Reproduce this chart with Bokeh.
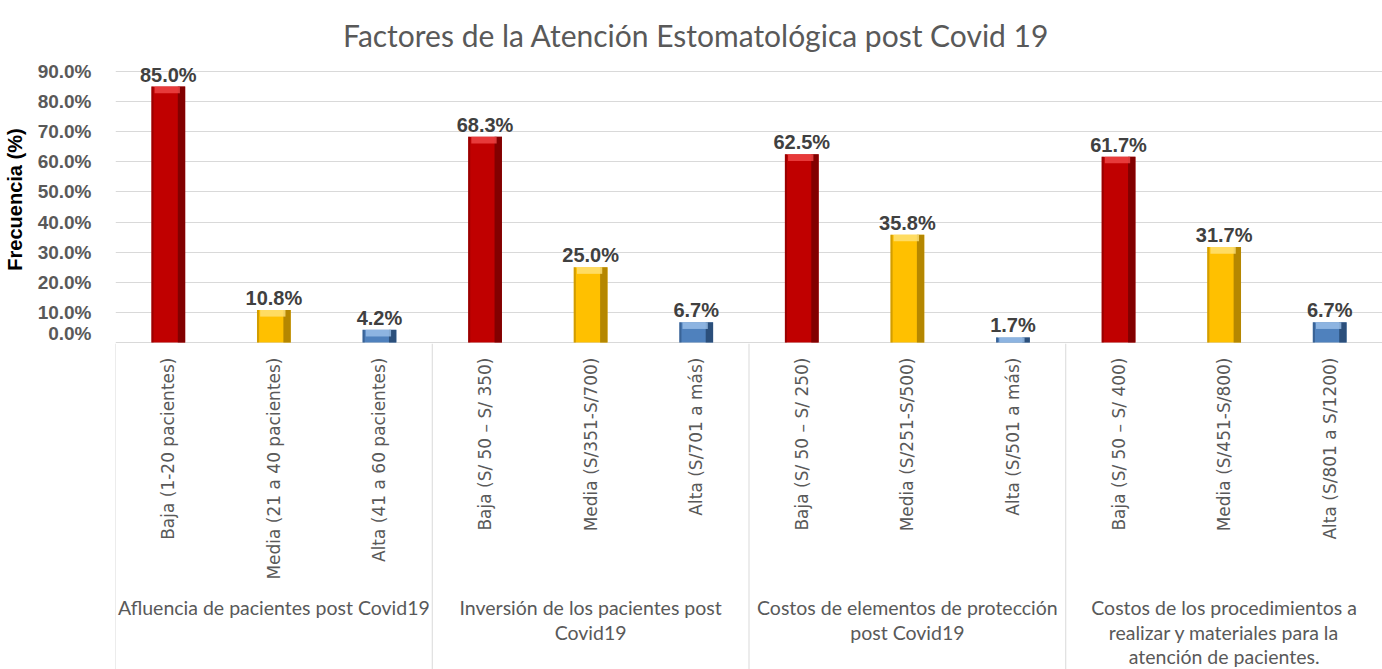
import math
from bokeh.plotting import figure
from bokeh.layouts import column
from bokeh.models import (FactorRange, Range1d, FixedTicker, NumeralTickFormatter,
                          ColumnDataSource)
from bokeh.transform import dodge
from bokeh.core.properties import value
from bokeh.embed import file_html
from bokeh.resources import INLINE

# ---------------- data ----------------
title_text = "Factores de la Atención Estomatológica post Covid 19"
y_label = "Frecuencia (%)"

groups = [
    "Afluencia de pacientes post Covid19",
    "Inversión de los pacientes post\nCovid19",
    "Costos de elementos de protección\npost Covid19",
    "Costos de los procedimientos a\nrealizar y materiales para la\natención de pacientes.",
]
categories = [
    ["Baja (1-20 pacientes)", "Media (21 a 40 pacientes)", "Alta (41 a 60 pacientes)"],
    ["Baja (S/ 50 – S/ 350)", "Media (S/351-S/700)", "Alta (S/701 a más)"],
    ["Baja (S/ 50 – S/ 250)", "Media (S/251-S/500)", "Alta (S/501 a más)"],
    ["Baja (S/ 50 – S/ 400)", "Media (S/451-S/800)", "Alta (S/801 a S/1200)"],
]
values = [
    [85.0, 10.8, 4.2],
    [68.3, 25.0, 6.7],
    [62.5, 35.8, 1.7],
    [61.7, 31.7, 6.7],
]
level_colors = ["#C00000", "#FFC000", "#4F81BD"]
level_dark = ["#6E0000", "#9C7400", "#1F3F66"]
level_light = ["#F04848", "#FFE27A", "#9CC0EA"]
y_ticks = [0.0, 0.1, 0.2, 0.3, 0.4, 0.5, 0.6, 0.7, 0.8, 0.9]

# ---------------- derived ----------------
flat_cats, flat_vals, col, dark, light, labels, hi_bottom = [], [], [], [], [], [], []
for g, cats in enumerate(categories):
    for i, c in enumerate(cats):
        v = values[g][i] / 100.0
        flat_cats.append(c)
        flat_vals.append(v)
        col.append(level_colors[i])
        dark.append(level_dark[i])
        light.append(level_light[i])
        labels.append(f"{values[g][i]:.1f}%")
        hi_bottom.append(max(v - 0.022, 0.0))

src = ColumnDataSource(dict(cat=flat_cats, val=flat_vals, color=col, dark=dark,
                            light=light, label=labels, hib=hi_bottom))

W = 1382
LEFT = 114
GRID = "#d9d9d9"
GRAY = "#595959"

# vertical layout (pixels from page top)
TITLE_H = 55
AXIS_Y = 343          # pixel row of 0 %
TOP90_Y = 72          # pixel row of 90 %
BOTTOM_H = 669 - AXIS_Y
TOP_H = AXIS_Y - TITLE_H
ppu = (AXIS_Y - TOP90_Y) / 0.9
y_start = -1.0 / ppu
y_end = y_start + TOP_H / ppu

x_range = FactorRange(factors=flat_cats, range_padding=0, factor_padding=0)

def bare(fig):
    fig.outline_line_color = None
    fig.xgrid.visible = False
    fig.ygrid.visible = False

# ---------------- title figure ----------------
t = figure(width=W, height=TITLE_H, x_range=x_range, y_range=Range1d(TITLE_H, 0),
           output_backend="svg", toolbar_location=None,
           min_border_left=LEFT, min_border_right=0, min_border_top=0,
           min_border_bottom=0, x_axis_location=None, y_axis_location=None)
bare(t)
tsrc = ColumnDataSource(dict(x=[flat_cats[len(flat_cats) // 2 - 1]], y=[34], t=[title_text]))
t.text(x="x", y="y", text="t", source=tsrc, text_align="center",
       text_baseline="alphabetic", text_font=value("Lato"),
       text_font_size="30px", text_color=GRAY)

# ---------------- top figure (bars) ----------------
p = figure(width=W, height=TOP_H, x_range=x_range, y_range=Range1d(y_start, y_end),
           output_backend="svg", toolbar_location=None,
           min_border_left=LEFT, min_border_right=0, min_border_bottom=0,
           min_border_top=0, x_axis_location=None)
p.outline_line_color = None
p.xgrid.visible = False
p.ygrid.grid_line_color = GRID
p.ygrid.grid_line_width = 1
p.yaxis.ticker = FixedTicker(ticks=y_ticks)
p.yaxis.formatter = NumeralTickFormatter(format="0.0%")
p.yaxis.axis_line_color = None
p.yaxis.major_tick_line_color = None
p.yaxis.minor_tick_line_color = None
p.yaxis.major_label_standoff = 18
p.yaxis.major_label_text_font = "Liberation Sans"
p.yaxis.major_label_text_font_style = "bold"
p.yaxis.major_label_text_font_size = "19px"
p.yaxis.major_label_text_color = GRAY
p.yaxis.axis_label = y_label
p.yaxis.axis_label_text_font = "Liberation Sans"
p.yaxis.axis_label_text_font_style = "bold"
p.yaxis.axis_label_text_font_size = "20px"
p.yaxis.axis_label_text_color = "#000000"
p.yaxis.axis_label_standoff = 9

p.vbar(x="cat", top="val", width=0.32, source=src, fill_color="color", line_color=None)
p.vbar(x=dodge("cat", 0.125, range=x_range), top="val", width=0.07, source=src,
       fill_color="dark", fill_alpha=0.75, line_color=None)
p.vbar(x=dodge("cat", -0.15, range=x_range), top="val", width=0.02, source=src,
       fill_color="dark", fill_alpha=0.45, line_color=None)
p.vbar(x=dodge("cat", -0.01, range=x_range), top="val", bottom="hib", width=0.24,
       source=src, fill_color="light", fill_alpha=0.8, line_color=None)
p.text(x="cat", y="val", text="label", source=src, y_offset=-12,
       text_align="center", text_baseline="alphabetic",
       text_font=value("Liberation Sans"), text_font_style="bold",
       text_font_size="20px", text_color="#404040")

# ---------------- bottom figure (category labels) ----------------
b = figure(width=W, height=BOTTOM_H, x_range=x_range, y_range=Range1d(BOTTOM_H, 0),
           output_backend="svg", toolbar_location=None,
           min_border_left=LEFT, min_border_right=0, min_border_top=0,
           min_border_bottom=0, x_axis_location=None, y_axis_location=None)
bare(b)

b.text(x="cat", y=14, text="cat", source=src, angle=math.pi / 2,
       text_align="right", text_baseline="middle",
       text_font=value("DejaVu Sans"), text_font_size="17px", text_color=GRAY)

first_cats = [cats[0] for cats in categories]
sep = ColumnDataSource(dict(c=first_cats))
b.segment(x0=dodge("c", -0.5, range=x_range), y0=0,
          x1=dodge("c", -0.5, range=x_range), y1=BOTTOM_H,
          source=sep, line_color=GRID, line_width=1)

gx, gy, gt = [], [], []
for g, name in enumerate(groups):
    for k, line in enumerate(name.split("\n")):
        gx.append(categories[g][1])
        gy.append(264 + k * 24.5)
        gt.append(line)
gsrc = ColumnDataSource(dict(x=gx, y=gy, t=gt))
b.text(x="x", y="y", text="t", source=gsrc, text_align="center",
       text_baseline="middle", text_font=value("Lato"), text_font_size="19.5px",
       text_color=GRAY)

layout = column(t, p, b)
open("out.html", "w").write(file_html(layout, INLINE))
